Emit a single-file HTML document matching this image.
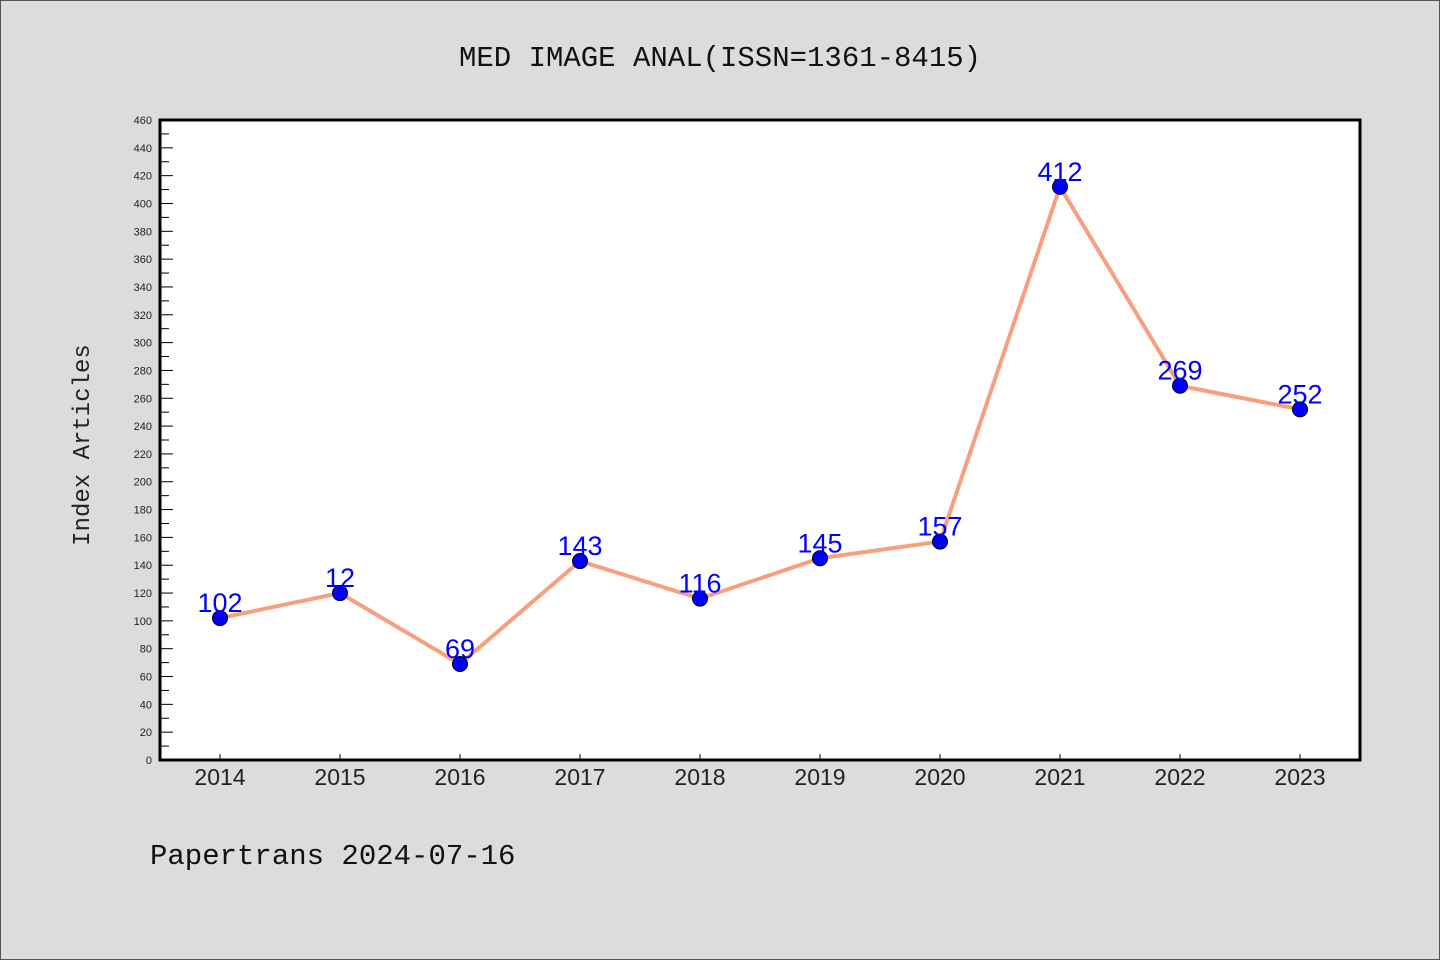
<!DOCTYPE html>
<html><head><meta charset="utf-8"><style>
body{margin:0;background:#dcdcdc;}
svg{display:block;font-family:"Liberation Sans","DejaVu Sans",sans-serif;}
</style></head><body>
<svg id="chart" width="1440" height="960">
<rect x="0.5" y="0.5" width="1439" height="959" fill="#dcdcdc" stroke="#555"/>
<text x="720" y="66" text-anchor="middle" font-family="Liberation Mono, DejaVu Sans Mono, monospace" font-size="29" fill="#111">MED IMAGE ANAL(ISSN=1361-8415)</text>
<rect x="160" y="120" width="1200" height="640" fill="#fff"/>
<g id="ticks"></g>
<g id="marks"></g>
<rect x="160" y="120" width="1200" height="640" fill="none" stroke="#000" stroke-width="3"/>
<text transform="translate(89,445) rotate(-90)" text-anchor="middle" font-family="Liberation Mono, DejaVu Sans Mono, monospace" font-size="24" fill="#222">Index Articles</text>
<text x="150" y="864" font-family="Liberation Mono, DejaVu Sans Mono, monospace" font-size="29" fill="#111">Papertrans 2024-07-16</text>
</svg>
<script>
const categories=["2014","2015","2016","2017","2018","2019","2020","2021","2022","2023"];
const values=[102,120,69,143,116,145,157,412,269,252];
const valueLabels=["102","12","69","143","116","145","157","412","269","252"];
const yMax=460;
const NS="http://www.w3.org/2000/svg";
const L=160,R=1360,T=120,B=760;
function xs(i){return 220+i*120;}
function ys(v){return B-(v/yMax)*(B-T);}
function mk(tag,attrs,parent){const e=document.createElementNS(NS,tag);for(const k in attrs)e.setAttribute(k,attrs[k]);parent.appendChild(e);return e;}
const tg=document.getElementById('ticks'),mg=document.getElementById('marks');
for(let v=0;v<=yMax;v+=10){
  const major=v%20===0;
  const t=mk('line',{x1:L,x2:L+(major?13:9),y1:ys(v),y2:ys(v),stroke:'#000','stroke-width':1},tg);
  
  
  if(major){
    const lb=mk('text',{x:152,y:ys(v)+4,'text-anchor':'end','font-size':11,fill:'#222'},tg);
    lb.textContent=v;
    
    
  }
}
categories.forEach((c,i)=>{
  const t=mk('line',{x1:xs(i),x2:xs(i),y1:B,y2:B-6,stroke:'#000','stroke-width':1},tg);
  
  
  const lb=mk('text',{x:xs(i),y:B+25,'text-anchor':'middle','font-size':23,fill:'#222'},tg);
  lb.textContent=c;
  
  
});
const line=mk('polyline',{points:values.map((v,i)=>xs(i)+','+ys(v)).join(' '),fill:'none',stroke:'#f79f7f','stroke-width':4,'stroke-linejoin':'round'},mg);


values.forEach((v,i)=>{
  const p=mk('circle',{cx:xs(i),cy:ys(v),r:7.5,fill:'#0000ff',stroke:'#000','stroke-width':1},mg);
  
  
  const lb=mk('text',{x:xs(i),y:ys(v)-6,'text-anchor':'middle','font-size':27,fill:'#0000ff'},mg);
  lb.textContent=valueLabels[i];
  
  
});
</script>
</body></html>
